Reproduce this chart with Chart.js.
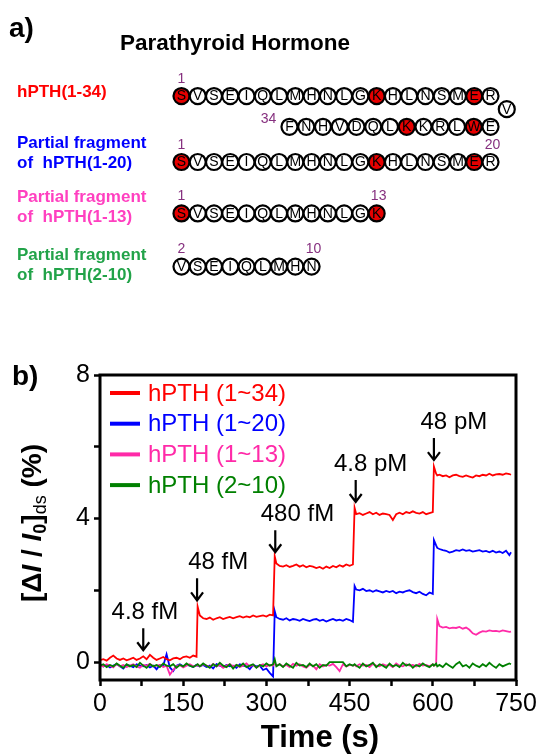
<!DOCTYPE html>
<html lang="en">
<head>
<meta charset="UTF-8">
<title>hPTH fragments sensing</title>
<script src="https://cdn.jsdelivr.net/npm/chart.js"></script>
<style>
    body {
        margin: 0;
        width: 543px;
        height: 756px;
        position: relative;
        overflow: hidden;
        background: #fff;
        font-family: Arial, "Liberation Sans", sans-serif;
    }

    canvas {
        position: absolute;
        left: 0;
    }

    #seqCanvas { top: 0; }
    #timeCanvas { top: 330px; }

    .lbl {
        position: absolute;
        font-weight: bold;
        white-space: pre;
        z-index: 2;
    }

    .panel { font-size: 28px; line-height: 32px; color: #000; }
    .title { font-size: 22.5px; line-height: 26px; color: #000; }
    .frag { font-size: 17px; line-height: 19.5px; }
</style>
</head>
<body>

<div class="lbl panel" style="left:9px; top:12px;">a)</div>
<div class="lbl title" style="left:120px; top:30px;">Parathyroid Hormone</div>
<div class="lbl frag" style="left:17px; top:82px; color:#ff0000;">hPTH(1-34)</div>
<div class="lbl frag" style="left:17px; top:133px; color:#0000ff;">Partial fragment
of  hPTH(1-20)</div>
<div class="lbl frag" style="left:17px; top:187px; color:#ff40c0;">Partial fragment
of  hPTH(1-13)</div>
<div class="lbl frag" style="left:17px; top:245px; color:#22a349;">Partial fragment
of  hPTH(2-10)</div>
<div class="lbl panel" style="left:12px; top:360px;">b)</div>

<canvas id="seqCanvas" width="543" height="300"></canvas>
<canvas id="timeCanvas" width="543" height="426"></canvas>

<script>
    // ---------- panel a : peptide sequences ----------
    const sequence = 'SVSEIQLMHNLGKHLNSMERVEWLRKKLQDVHNF';
    const fragmentNames = ['hPTH(1-34)', 'hPTH(1-20)', 'hPTH(1-13)', 'hPTH(2-10)'];
    const fragmentStart = [1, 1, 1, 2];
    const fragmentEnd = [34, 20, 13, 10];
    const fragmentRow = [3.07, 5.43, 7.27, 9.17];
    const redResidues = [1, 13, 19, 23, 27];

    // ---------- panel b : real-time response ----------
    const seriesNames = ['hPTH (1~34)', 'hPTH (1~20)', 'hPTH (1~13)', 'hPTH (2~10)'];
    const seriesColors = ['#ff0000', '#0000ff', '#ff2aa8', '#008000'];

    const times = [
        0, 6, 12, 18, 24, 30, 36, 42, 48, 54, 60, 66, 72, 78, 84, 90, 96, 102, 108, 114, 120, 126, 132, 138, 144, 150, 156, 162, 168, 174,
        176,
        180, 186, 192, 198, 204, 210, 216, 222, 228, 234, 240, 246, 252, 258, 264, 270, 276, 282, 288, 294, 300, 306, 312,
        315,
        318, 324, 330, 336, 342, 348, 354, 360, 366, 372, 378, 384, 390, 396, 402, 408, 414, 420, 426, 432, 438, 444, 450, 456,
        459,
        462, 468, 474, 480, 486, 492, 498, 504, 510, 516, 522, 528, 534, 540, 546, 552, 558, 564, 570, 576, 582, 588, 594, 600,
        602, 606, 608,
        612, 618, 624, 630, 636, 642, 648, 654, 660, 666, 672, 678, 684, 690, 696, 702, 708, 714, 720, 726, 732, 738,
        741
    ];

    const hpth1to34 = [
        0.05, 0.08, 0.04, 0.12, 0.18, 0.1, 0.06, 0.1, 0.05, 0.08, 0.12, 0.06, 0.1, 0.16, 0.08, 0.2, 0.12, 0.06, 0.1, 0.14, 0.08, 0.05, 0.1, 0.12, 0.08, 0.14, 0.16, 0.12, 0.18, 0.15,
        1.55,
        1.3, 1.22, 1.2, 1.24, 1.18, 1.22, 1.25, 1.2, 1.23, 1.26, 1.22, 1.25, 1.28, 1.24, 1.27, 1.25, 1.3, 1.26, 1.28, 1.3, 1.27, 1.32, 1.3,
        2.95,
        2.75, 2.68, 2.66, 2.7, 2.65, 2.68, 2.72, 2.66, 2.7, 2.64, 2.68, 2.66, 2.62, 2.65, 2.6, 2.66, 2.62, 2.68, 2.64, 2.7, 2.66, 2.72, 2.68, 2.72,
        4.3,
        4.12, 4.15, 4.1, 4.14, 4.18, 4.12, 4.16, 4.1, 4.14, 4.12, 4.1, 3.96, 4.12, 4.16, 4.12, 4.18, 4.15, 4.2, 4.16, 4.14, 4.18, 4.12, 4.15, 4.18,
        5.45, 5.25, 5.2,
        5.22, 5.18, 5.2, 5.15, 5.2, 5.22, 5.18, 5.16, 5.2, 5.17, 5.14, 5.2, 5.18, 5.22, 5.2, 5.25, 5.2, 5.23, 5.24, 5.22, 5.26, 5.24,
        5.22
    ];

    const hpth1to20 = [
        -0.05, -0.12, -0.08, -0.15, -0.1, -0.06, -0.12, -0.18, -0.08, -0.1, -0.14, -0.06, -0.1, -0.12, -0.08, -0.15, -0.1, -0.2, -0.08, -0.1, 0.22, -0.15, -0.25, -0.1, -0.06, -0.12, -0.08, -0.1, -0.14, -0.08,
        -0.1,
        -0.12, -0.08, -0.14, -0.1, -0.18, -0.06, -0.1, -0.14, -0.08, -0.12, -0.1, -0.16, -0.06, -0.1, -0.12, -0.2, -0.08, -0.12, -0.1, -0.22, -0.18, -0.3, -0.4,
        1.42,
        1.25, 1.2, 1.18, 1.22, 1.16, 1.2, 1.18, 1.15, 1.2, 1.17, 1.14, 1.18, 1.2, 1.15, 1.18, 1.13, 1.17, 1.2, 1.16, 1.18, 1.15, 1.2, 1.17, 1.12,
        2.12,
        2.02, 2.0, 2.04, 1.98, 2.0, 1.96, 2.0, 1.97, 1.94, 1.98, 1.95, 1.98, 1.92, 1.96, 1.94, 1.98, 2.0, 1.95, 1.92, 1.96, 1.9, 1.86, 1.94, 1.9,
        3.4, 3.25, 3.18,
        3.15, 3.12, 3.1, 3.05, 3.08, 3.12, 3.1, 3.14, 3.1, 3.12, 3.08, 3.1, 3.12, 3.08, 3.1, 3.06, 3.1, 3.05, 3.08, 3.04, 3.1, 2.98,
        3.06
    ];

    const hpth1to13 = [
        -0.08, -0.12, -0.06, -0.1, -0.15, -0.05, -0.12, -0.08, -0.14, -0.1, -0.06, -0.12, -0.16, -0.08, -0.1, -0.05, -0.12, -0.1, -0.08, -0.14, -0.1, -0.35, -0.22, -0.12, -0.08, -0.15, -0.1, -0.06, -0.12, -0.1,
        -0.08,
        -0.12, -0.06, -0.1, -0.14, -0.05, -0.12, -0.08, -0.16, -0.1, -0.06, -0.12, -0.08, -0.14, -0.1, -0.04, -0.12, -0.08, -0.15, -0.1, -0.06, -0.12, -0.08, -0.1,
        -0.02,
        -0.1, -0.06, -0.12, -0.08, -0.14, -0.05, -0.1, -0.06, -0.12, -0.16, -0.08, -0.1, -0.2, -0.06, -0.12, -0.08, -0.1, -0.05, -0.14, -0.25, -0.06, -0.12, -0.08, -0.1,
        -0.08,
        -0.12, -0.06, -0.1, -0.08, -0.14, -0.05, -0.1, -0.12, -0.06, -0.1, -0.08, -0.14, -0.04, -0.1, -0.12, -0.06, -0.1, -0.08, -0.12, -0.05, -0.1, -0.08, -0.12, -0.06,
        -0.1, -0.08, 1.2,
        1.0, 0.96, 0.98, 0.94, 0.96, 0.95, 0.98, 0.93, 0.96, 0.9, 0.8, 0.76, 0.82, 0.86, 0.85, 0.88, 0.86, 0.87, 0.85, 0.88, 0.86, 0.84,
        0.85
    ];

    const hpth2to10 = [
        -0.1, -0.06, -0.14, -0.08, -0.12, -0.04, -0.1, -0.16, -0.06, -0.12, -0.08, -0.14, -0.02, -0.1, -0.16, -0.06, -0.12, -0.08, -0.14, -0.04, -0.1, -0.12, -0.06, -0.16, -0.08, -0.12, -0.04, -0.1, -0.14, -0.08,
        -0.06,
        -0.12, -0.04, -0.1, -0.16, -0.06, -0.12, -0.02, -0.1, -0.14, -0.06, -0.18, -0.08, -0.12, -0.04, -0.14, -0.1, -0.06, -0.16, -0.08, -0.12, -0.04, -0.1, -0.06,
        0.08,
        -0.12, -0.06, -0.14, -0.04, -0.1, -0.16, -0.02, -0.1, -0.08, -0.14, -0.04, -0.12, -0.06, -0.16, -0.08, -0.1, 0, 0, 0, 0, 0, -0.12, -0.06, -0.1,
        -0.06,
        -0.1, -0.16, -0.04, -0.12, -0.08, -0.02, -0.14, -0.06, -0.1, -0.16, -0.04, -0.12, -0.08, -0.14, -0.02, -0.1, -0.06, -0.16, -0.08, -0.12, -0.04, -0.1, -0.14, -0.06,
        -0.1, -0.04, -0.12,
        -0.08, -0.14, -0.04, -0.1, -0.16, -0.06, 0, -0.12, -0.08, -0.16, -0.04, -0.1, -0.14, -0.06, -0.12, -0.02, -0.1, -0.16, -0.06, -0.12, -0.08, -0.04,
        -0.06
    ];

    const xTicks = [0, 75, 150, 225, 300, 375, 450, 525, 600, 675, 750];
    const xTickLabels = [0, 150, 300, 450, 600, 750];
    const yTicks = [0, 2, 4, 6, 8];
    const yTickLabels = [0, 4, 8];

    // concentration marks: label, arrow time, arrow tip value, label time
    const doseLabels = ['4.8 fM', '48 fM', '480 fM', '4.8 pM', '48 pM'];
    const doseArrowT = [78, 175, 316, 461, 602];
    const doseArrowTip = [0.33, 1.72, 3.06, 4.46, 5.63];
    const doseLabelT = [81, 213, 356, 488, 638];

    // ---------- panel a chart ----------
    function residuePoints(f) {
        const pts = [];
        for (let n = fragmentStart[f]; n <= fragmentEnd[f]; n++) {
            let x = n - fragmentStart[f] + 1;
            let y = fragmentRow[f];
            if (n === 21) {
                x = 21;
                y += 0.47;
            } else if (n > 21) {
                // folded back underneath, right to left
                x = 20 - (n - 22) * 1.03;
                y += 1.1;
            }
            pts.push({ x: x, y: y, res: sequence[n - 1], num: n });
        }
        return pts;
    }

    const residueLetters = {
        id: 'residueLetters',
        afterDatasetsDraw(chart) {
            const ctx = chart.ctx;
            ctx.save();
            ctx.textAlign = 'center';
            ctx.textBaseline = 'middle';
            chart.data.datasets.forEach((ds, f) => {
                const els = chart.getDatasetMeta(f).data;
                ctx.font = '14px Arial';
                ctx.fillStyle = '#000';
                els.forEach((el, i) => ctx.fillText(ds.data[i].res, el.x, el.y + 0.5));

                ctx.font = '14px Arial';
                ctx.fillStyle = '#86307f';
                const first = els[0];
                const last = els[els.length - 1];
                ctx.fillText(String(fragmentStart[f]), first.x, first.y - 17);
                if (fragmentEnd[f] > 21) {
                    ctx.fillText(String(fragmentEnd[f]), last.x - 21, last.y - 8);
                } else {
                    ctx.fillText(String(fragmentEnd[f]), last.x + 2, last.y - 17);
                }
            });
            ctx.restore();
        }
    };

    new Chart(document.getElementById('seqCanvas'), {
        type: 'scatter',
        data: {
            datasets: fragmentNames.map((name, f) => {
                const pts = residuePoints(f);
                return {
                    label: name,
                    data: pts,
                    pointRadius: 8,
                    pointHoverRadius: 8,
                    pointBorderWidth: 2.2,
                    pointBorderColor: '#000',
                    pointBackgroundColor: pts.map(p => redResidues.includes(p.num) ? '#e60000' : '#fff')
                };
            })
        },
        options: {
            responsive: false,
            animation: false,
            events: [],
            layout: { padding: 0 },
            plugins: { legend: { display: false }, tooltip: { enabled: false } },
            scales: {
                x: { type: 'linear', display: false, min: -9.53, max: 22.6 },
                y: { type: 'linear', display: false, reverse: true, min: 0, max: 10 }
            }
        },
        plugins: [residueLetters]
    });

    // ---------- panel b chart ----------
    const seriesValues = [hpth1to34, hpth1to20, hpth1to13, hpth2to10];
    const drawOrder = [0, 3, 2, 1];

    const framePlugin = {
        id: 'frame',
        afterDatasetsDraw(chart) {
            const a = chart.chartArea;
            const ctx = chart.ctx;
            ctx.save();
            ctx.strokeStyle = '#000';
            ctx.lineWidth = 3;
            ctx.strokeRect(a.left, a.top, a.right - a.left, a.bottom - a.top);
            ctx.restore();
        }
    };

    const legendPlugin = {
        id: 'insideLegend',
        afterDraw(chart) {
            const a = chart.chartArea;
            const ctx = chart.ctx;
            ctx.save();
            ctx.font = '24px Arial';
            ctx.textBaseline = 'middle';
            chart.data.datasets.forEach((ds, i) => {
                const y = a.top + 18 + i * 30.7;
                ctx.strokeStyle = ds.borderColor;
                ctx.lineWidth = 4;
                ctx.beginPath();
                ctx.moveTo(a.left + 10, y);
                ctx.lineTo(a.left + 40, y);
                ctx.stroke();
                ctx.fillStyle = ds.borderColor;
                ctx.fillText(ds.label, a.left + 48, y + 1);
            });
            ctx.restore();
        }
    };

    const dosePlugin = {
        id: 'doseMarks',
        afterDraw(chart) {
            const xs = chart.scales.x, ys = chart.scales.y;
            const ctx = chart.ctx;
            ctx.save();
            ctx.strokeStyle = '#000';
            ctx.fillStyle = '#000';
            ctx.lineWidth = 2.2;
            ctx.font = '24px Arial';
            ctx.textAlign = 'center';
            ctx.textBaseline = 'middle';
            doseLabels.forEach((txt, i) => {
                const x = xs.getPixelForValue(doseArrowT[i]);
                const tip = ys.getPixelForValue(doseArrowTip[i]);
                const top = tip - 22;
                ctx.beginPath();
                ctx.moveTo(x, top);
                ctx.lineTo(x, tip);
                ctx.moveTo(x - 6, tip - 8);
                ctx.lineTo(x, tip);
                ctx.lineTo(x + 6, tip - 8);
                ctx.stroke();
                ctx.fillText(txt, xs.getPixelForValue(doseLabelT[i]), top - 16);
            });
            ctx.restore();
        }
    };

    const axisTitles = {
        id: 'axisTitles',
        afterDraw(chart) {
            const ctx = chart.ctx;
            const a = chart.chartArea;
            ctx.save();
            ctx.fillStyle = '#000';

            // x title
            ctx.font = 'bold 31px Arial';
            ctx.textAlign = 'center';
            ctx.textBaseline = 'alphabetic';
            ctx.fillText('Time (s)', (a.left + a.right) / 2 + 12, 417);

            // y title: [ΔI / I0]ds (%)
            const parts = [
                { t: '[\u0394', f: 'bold 28px Arial', dy: 0 },
                { t: 'I', f: 'italic bold 28px Arial', dy: 0 },
                { t: ' / ', f: 'bold 28px Arial', dy: 0 },
                { t: 'I', f: 'italic bold 28px Arial', dy: 0 },
                { t: '0', f: 'bold 18px Arial', dy: 8 },
                { t: ']', f: 'bold 28px Arial', dy: 0 },
                { t: 'ds', f: '18px Arial', dy: 8 },
                { t: ' (%)', f: 'bold 28px Arial', dy: 0 }
            ];
            let total = 0;
            parts.forEach(p => { ctx.font = p.f; p.w = ctx.measureText(p.t).width; total += p.w; });
            ctx.translate(33, 193);
            ctx.rotate(-Math.PI / 2);
            ctx.textAlign = 'left';
            ctx.textBaseline = 'middle';
            let x = -total / 2;
            parts.forEach(p => {
                ctx.font = p.f;
                ctx.fillText(p.t, x, p.dy);
                x += p.w;
            });
            ctx.restore();
        }
    };

    new Chart(document.getElementById('timeCanvas'), {
        type: 'line',
        data: {
            datasets: seriesNames.map((name, i) => ({
                label: name,
                data: times.map((t, k) => ({ x: t, y: seriesValues[i][k] })),
                borderColor: seriesColors[i],
                backgroundColor: seriesColors[i],
                borderWidth: 1.8,
                pointRadius: 0,
                tension: 0,
                fill: false,
                order: drawOrder[i]
            }))
        },
        options: {
            responsive: false,
            animation: false,
            events: [],
            layout: { padding: { top: 45, right: 27, left: 0, bottom: 0 } },
            plugins: { legend: { display: false }, tooltip: { enabled: false } },
            scales: {
                x: {
                    type: 'linear',
                    min: 0,
                    max: 750,
                    afterFit: s => { s.height = 76; },
                    afterBuildTicks: s => { s.ticks = xTicks.map(v => ({ value: v })); },
                    ticks: {
                        autoSkip: false,
                        maxRotation: 0,
                        padding: 3,
                        color: '#000',
                        font: { family: 'Arial', size: 25 },
                        callback: v => xTickLabels.includes(v) ? String(v) : ''
                    },
                    grid: { drawOnChartArea: false, tickLength: 6, tickWidth: 2.5, tickColor: '#000' },
                    border: { display: false }
                },
                y: {
                    type: 'linear',
                    min: -0.5,
                    max: 8,
                    afterFit: s => { s.width = 100; },
                    afterBuildTicks: s => { s.ticks = yTicks.map(v => ({ value: v })); },
                    ticks: {
                        padding: 4,
                        color: '#000',
                        font: { family: 'Arial', size: 25 },
                        callback: v => yTickLabels.includes(v) ? String(v) : ''
                    },
                    grid: { drawOnChartArea: false, tickLength: 6, tickWidth: 2.5, tickColor: '#000' },
                    border: { display: false }
                }
            }
        },
        plugins: [framePlugin, legendPlugin, dosePlugin, axisTitles]
    });
</script>
</body>
</html>
